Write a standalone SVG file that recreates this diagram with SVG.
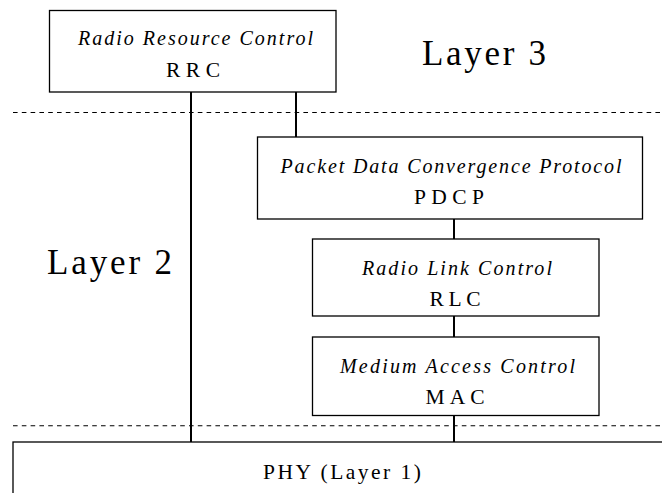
<svg xmlns="http://www.w3.org/2000/svg" width="662" height="493" viewBox="0 0 662 493">
  <style>
    .box { fill: #ffffff; stroke: #000000; stroke-width: 1.3; }
    .link { stroke: #000000; stroke-width: 2; fill: none; }
    .sep { stroke: #000000; stroke-width: 1.1; stroke-dasharray: 4.6 4.2; fill: none; }
    .name { font-family: "Liberation Serif", "Times New Roman", serif; font-style: italic; font-size: 20px; fill: #000000; text-anchor: middle; }
    .abbr { font-family: "Liberation Serif", "Times New Roman", serif; font-size: 21.5px; fill: #000000; text-anchor: middle; }
    .layer { font-family: "Liberation Serif", "Times New Roman", serif; font-size: 35px; fill: #000000; }
  </style>

  <rect width="662" height="493" fill="#ffffff"/>

  <!-- layer boundaries -->
  <g id="separators">
    <line class="sep" x1="13" y1="112.5" x2="662" y2="112.5"/>
    <line class="sep" x1="13" y1="425.7" x2="662" y2="425.7"/>
  </g>

  <!-- layer captions -->
  <text class="layer" x="422" y="65" textLength="124" lengthAdjust="spacing">Layer 3</text>
  <text class="layer" x="47" y="274" textLength="125" lengthAdjust="spacing">Layer 2</text>

  <!-- connectors -->
  <g id="connectors">
    <line class="link" x1="191" y1="92" x2="191" y2="442"/>
    <line class="link" x1="296" y1="92" x2="296" y2="137"/>
    <line class="link" x1="454" y1="219" x2="454" y2="239"/>
    <line class="link" x1="454" y1="316" x2="454" y2="337"/>
    <line class="link" x1="454" y1="415.5" x2="454" y2="442"/>
  </g>

  <g id="rrc">
    <rect class="box" x="49.5" y="10.5" width="286.5" height="81.5"/>
    <text class="name" x="195.5" y="45" textLength="235" lengthAdjust="spacing">Radio Resource Control</text>
    <text class="abbr" x="193" y="76.5" textLength="54" lengthAdjust="spacing">RRC</text>
  </g>

  <g id="pdcp">
    <rect class="box" x="257.5" y="137" width="385" height="82"/>
    <text class="name" x="451" y="172.5" textLength="341" lengthAdjust="spacing">Packet Data Convergence Protocol</text>
    <text class="abbr" x="449" y="204" textLength="70" lengthAdjust="spacing">PDCP</text>
  </g>

  <g id="rlc">
    <rect class="box" x="312.5" y="239" width="286.5" height="77"/>
    <text class="name" x="457" y="275" textLength="190" lengthAdjust="spacing">Radio Link Control</text>
    <text class="abbr" x="455" y="306" textLength="51" lengthAdjust="spacing">RLC</text>
  </g>

  <g id="mac">
    <rect class="box" x="312.5" y="337" width="286.5" height="78.5"/>
    <text class="name" x="457.5" y="372.5" textLength="235" lengthAdjust="spacing">Medium Access Control</text>
    <text class="abbr" x="455" y="403.5" textLength="59" lengthAdjust="spacing">MAC</text>
  </g>

  <g id="phy">
    <rect class="box" x="13" y="442" width="670" height="70"/>
    <text class="abbr" x="342" y="478.5" textLength="158" lengthAdjust="spacing">PHY (Layer 1)</text>
  </g>
</svg>
